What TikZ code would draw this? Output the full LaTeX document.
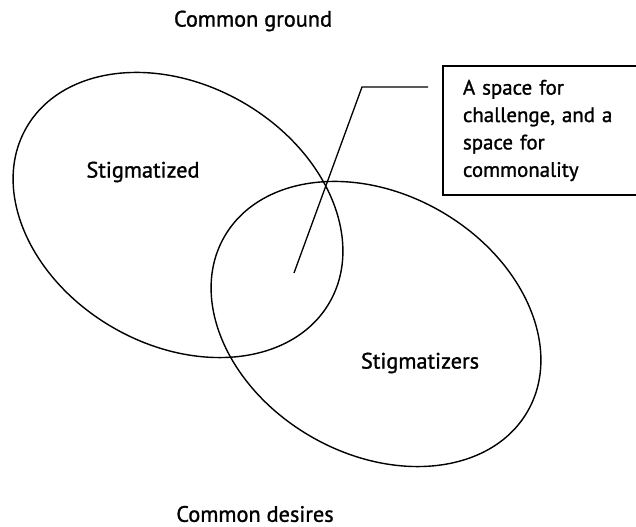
\documentclass[tikz,border=0pt]{standalone}
\usepackage{fontspec}
\setmainfont{PT Sans}
\newfontfamily\labelfont{PT Sans}[FakeBold=1.2]
\usetikzlibrary{calc}

\begin{document}
\begin{tikzpicture}[x=0.02cm,y=0.02cm,
    label/.style={font=\labelfont\fontsize{12.7}{15.6}\selectfont, inner sep=0pt},
    venn/.style={line width=0.8pt},
    callout/.style={line width=0.75pt}]
    % --- Cadre de l'image ---
    \clip (0,0) rectangle (636,527);
    \useasboundingbox (0,0) rectangle (636,527);

    % --- Centres des deux ellipses ---
    \coordinate (S1) at (178,312);
    \coordinate (S2) at (376,203);

    % --- Tracé des ellipses ---
    \draw[venn] (S1) circle [x radius=3.5cm, y radius=2.6cm, rotate=-30];
    \draw[venn] (S2) circle [x radius=3.5cm, y radius=2.6cm, rotate=-30];

    % --- Textes ---
    \node[label] (ground) at (253,506) {Common ground};
    \node[label] (desires) at (255,13) {Common desires};
    \node[label] (stigmatized) at (143,355) {Stigmatized};
    \node[label] (stigmatizers) at (420,164) {Stigmatizers};

    % --- Encadré et trait de rappel ---
    \node[draw, line width=1.1pt, anchor=north west, align=left,
          text width=3.6cm, inner xsep=0.4cm, minimum height=2.58cm,
          font=\labelfont\fontsize{11.9}{15.6}\selectfont] (note) at (442,462)
        {A space for\\ challenge, and a\\ space for\\ commonality};
    \coordinate (lead) at (428,440);
    \coordinate (bend) at (362,440);
    \coordinate (tip) at (294,254);
    \draw[callout] (lead) -- (bend) -- (tip);

\end{tikzpicture}
\end{document}
